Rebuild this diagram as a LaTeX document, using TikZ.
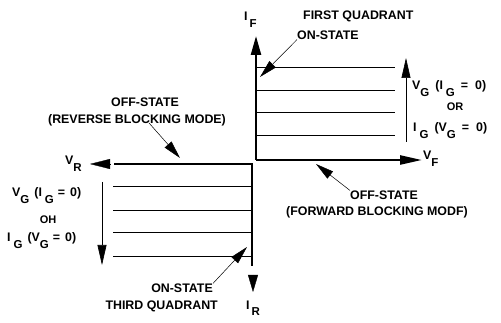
\documentclass[tikz,border=0pt]{standalone}
\usepackage{fontspec}
\setmainfont{Liberation Sans}
\usetikzlibrary{arrows.meta}
% 下付き文字
\newcommand\lo[1]{\raisebox{-6.5pt}{\fontsize{11.5}{11.5}\selectfont#1}}
\tikzset{
  lbl/.style={font=\fontsize{12.4}{13}\selectfont\bfseries,inner sep=0pt},
  small/.style={font=\fontsize{11}{11}\selectfont\bfseries,inner sep=0pt},
  axisline/.style={line width=2.4pt},
  qline/.style={line width=1pt},
  leader/.style={line width=0.5pt,-{Triangle[length=18pt,width=9pt]}},
  sidearrow/.style={line width=0.6pt,-{Triangle[length=20pt,width=9pt]}},
  headonly/.style={line width=0.3pt,-{Triangle[length=#1,width=10pt]}},
}
\begin{document}
\begin{tikzpicture}[x=1pt,y=-1pt]
  \useasboundingbox (0,0) rectangle (501,323);
  % 軸の端点 (第1象限側と第3象限側で少しずれている)
  \coordinate (o1) at (256,160);
  \coordinate (o3) at (252,164);
  \coordinate (iftip) at (256,36);
  \coordinate (vftip) at (422,160);
  \coordinate (vrend) at (115,164);
  \coordinate (irend) at (252,265);
  \draw[axisline,-{Triangle[length=19pt,width=10pt]}] (o1) -- (iftip);
  \draw[axisline,-{Triangle[length=22pt,width=9pt]}] (o1) -- (vftip);
  \draw[axisline,line cap=rect] (vrend) -- (o3) -- (irend);
  % 離れて描かれた矢印の頭
  \coordinate (vrbase) at (110,164);
  \coordinate (vrtip) at (90,164);
  \coordinate (irbase) at (253,275);
  \coordinate (irtip) at (253,292);
  \draw[headonly=20pt] (vrbase) -- (vrtip);
  \draw[headonly=17pt] (irbase) -- (irtip);
  % 第1象限の水平線
  \draw[qline] (256,68) -- (395,68);
  \draw[qline] (256,91) -- (395,91);
  \draw[qline] (256,113) -- (395,113);
  \draw[qline] (256,136) -- (395,136);
  % 第3象限の水平線
  \draw[qline] (113,187) -- (252,187);
  \draw[qline] (113,211) -- (252,211);
  \draw[qline] (113,233) -- (252,233);
  \draw[qline] (113,257) -- (252,257);
  % 横の矢印
  \coordinate (g1a) at (406,142);
  \coordinate (g1b) at (406,58);
  \coordinate (g3a) at (102,182);
  \coordinate (g3b) at (102,265);
  \draw[sidearrow] (g1a) -- (g1b);
  \draw[sidearrow] (g3a) -- (g3b);
  % 軸ラベル
  \node[lbl,anchor=base west] (if) at (244,21) {I\,\lo{F}};
  \node[lbl,anchor=base west] (ir) at (246,309) {I\,\lo{R}};
  \node[lbl,anchor=base west] (vr) at (65,165) {V\lo{R}};
  \node[lbl,anchor=base west] (vf) at (423,160) {V\lo{F}};
  % 第1象限
  \node[lbl,anchor=west] (fq) at (303,16) {FIRST QUADRANT};
  \node[lbl,anchor=west] (on1) at (297,35) {ON-STATE};
  \coordinate (on1tip) at (260,77);
  \draw[leader] (on1.south west) -- (on1tip);
  \node[lbl,anchor=base west] (g1v) at (412,90)
    {V\lo{G}\hspace{6pt}(I\hspace{3pt}\lo{G}\hspace{6pt}=\hspace{7pt}0)};
  \node[small] (g1or) at (455,107) {OR};
  \node[lbl,anchor=base west] (g1i) at (413,132)
    {I\hspace{3pt}\lo{G}\hspace{6pt}(V\lo{G}\hspace{6pt}=\hspace{7pt}0)};
  % 逆方向阻止
  \node[lbl] (rev1) at (145,102) {OFF-STATE};
  \node[lbl] (rev2) at (137,120) {(REVERSE BLOCKING MODE)};
  \coordinate (revtip) at (180,158);
  \draw[leader] ([xshift=12pt,yshift=3pt]rev2.south) -- (revtip);
  % 順方向阻止
  \node[lbl] (fwd1) at (384,195) {OFF-STATE};
  \node[lbl] (fwd2) at (377,212) {(FORWARD BLOCKING MODF)};
  \coordinate (fwdtip) at (316,164);
  \draw[leader] (fwd1.north west) -- (fwdtip);
  % 第3象限
  \node[lbl,anchor=base west] (g3v) at (12,197)
    {V\lo{G}\hspace{5pt}(I\hspace{3pt}\lo{G}\hspace{4pt}=\hspace{5pt}0)};
  \node[small] (g3or) at (48,220) {OH};
  \node[lbl,anchor=base west] (g3i) at (7,242)
    {I\hspace{3pt}\lo{G}\hspace{5pt}(V\lo{G}\hspace{4pt}=\hspace{5pt}0)};
  \node[lbl,anchor=east] (on3) at (213,288) {ON-STATE};
  \coordinate (on3tip) at (247,247);
  \draw[leader] (on3.north east) -- (on3tip);
  \node[lbl,anchor=east] (tq) at (218,306) {THIRD QUADRANT};
\end{tikzpicture}
\end{document}
